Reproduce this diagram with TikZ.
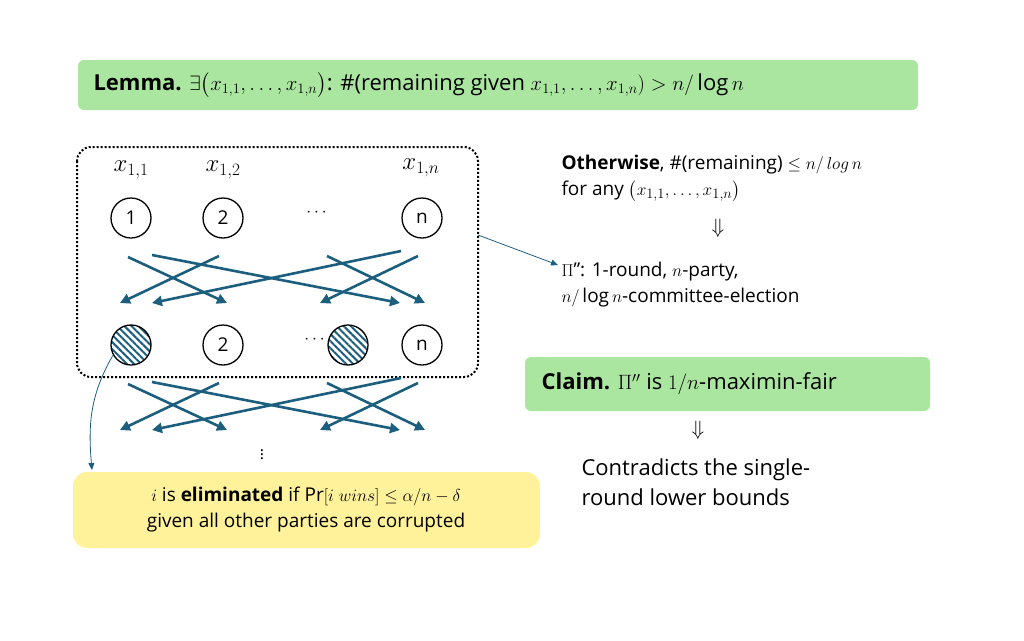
\documentclass[tikz,border=0pt]{standalone}
\usepackage{amsmath}
\usepackage{fontspec}
\setmainfont{Open Sans}
\usetikzlibrary{arrows.meta,positioning,patterns.meta}
\definecolor{arrowblue}{RGB}{28,94,125}
\definecolor{boxgreen}{RGB}{170,230,160}
\definecolor{boxyellow}{RGB}{255,242,155}

\begin{document}
\begin{tikzpicture}
[
	              x = 1pt, y = -1pt,
	     arr/.style = { draw=arrowblue, line width=2.6pt, -{Triangle[width=10pt,length=10pt]} },
	   party/.style = { draw=black, circle, line width=1.3pt, minimum size=40pt, inner sep=0pt, font=\fontsize{19}{20}\selectfont },
	 corrupt/.style = { party, pattern={Lines[angle=-45,distance=5pt,line width=2pt]}, pattern color=arrowblue },
	  banner/.style = { rounded corners=6pt, inner sep=0pt },
	    txt/.style = { anchor=west, align=left, font=\fontsize{19}{26}\selectfont },
	   dots/.style = { inner sep=0pt, font=\fontsize{16}{16}\selectfont }
]
    \useasboundingbox (0,0) rectangle (1024,640);

    % lemma banner
    \fill[banner, boxgreen] (78,60) rectangle (918,110);
    \node (LemmaText) at (90,85) [txt, font=\fontsize{22}{24}\selectfont]
        {\textbf{Lemma.} $\exists\big(x_{1,1},\dots,x_{1,n}\big)$: \#(remaining given $x_{1,1},\dots,x_{1,n})>n/\log n$};

    % first round
    \draw[dotted, line width=2pt, rounded corners=14pt] (77,147) rectangle (478,377);
    \coordinate (BoxRight) at (478,235);

    \node (XOne)   at (131,170) {\fontsize{23}{23}\selectfont $x_{1,1}$};
    \node (XTwo)   at (223,170) {\fontsize{23}{23}\selectfont $x_{1,2}$};
    \node (XN)     at (421,168) {\fontsize{23}{23}\selectfont $x_{1,n}$};

    \node (POne)   at (131,218) [party]   {1};
    \node (PTwo)   at (223,218) [party]   {2};
    \node (PDots)  at (318,213) [dots]    {$\cdots$};
    \node (PN)     at (422,218) [party]   {n};

    \node (QOne)   at (131,345) [corrupt] {};
    \node (QTwo)   at (223,345) [party]   {2};
    \node (QDots)  at (316,340) [dots]    {$\cdots$};
    \node (QThree) at (348,345) [corrupt] {};
    \node (QN)     at (422,345) [party]   {n};

    % message arrows, two rounds
    \foreach \dy/\r in {0/a, 127/b} {
        \coordinate (S1\r) at (128,257+\dy); \coordinate (E1\r) at (227,303+\dy);
        \coordinate (S2\r) at (152,255+\dy); \coordinate (E2\r) at (400,303+\dy);
        \coordinate (S3\r) at (219,256+\dy); \coordinate (E3\r) at (120,303+\dy);
        \coordinate (S4\r) at (401,251+\dy); \coordinate (E4\r) at (152,303+\dy);
        \coordinate (S5\r) at (327,256+\dy); \coordinate (E5\r) at (425,303+\dy);
        \coordinate (S6\r) at (418,256+\dy); \coordinate (E6\r) at (320,303+\dy);
        \foreach \i in {1,...,6}
            \draw[arr] (S\i\r) -- (E\i\r);
    }
    \node (VDots) at (262,452) [dots] {$\vdots$};

    % elimination note
    \fill[banner, boxyellow, rounded corners=14pt] (73,472) rectangle (540,548);
    \node (ElimText) at (306,510) [align=center, font=\fontsize{19}{26}\selectfont]
        {$i$ is \textbf{eliminated} if $\Pr[i\ wins]\le\alpha/n-\delta$\\ given all other parties are corrupted};
    \coordinate (ElimIn) at (92,470);
    \draw[arrowblue, thick, -{Triangle[width=6pt,length=7pt]}] (QOne.210) to[out=240,in=95] (ElimIn);

    % right side
    \node (Other) at (558,178) [txt]
        {\textbf{Otherwise}, \#(remaining) $\le n/\,log\,n$\\ for any $\big(x_{1,1},\dots,x_{1,n}\big)$};
    \node (ImplOne) at (718,228) {\fontsize{22}{22}\selectfont $\Downarrow$};
    \node (PiPP) at (558,285) [txt]
        {$\Pi$'': 1-round, $n$-party,\\ $n/\log n$-committee-election};
    \draw[arrowblue, thick, -{Triangle[width=6pt,length=7pt]}] (BoxRight) -- (PiPP.west |- 0,265);

    \fill[banner, boxgreen] (525,357) rectangle (930,411);
    \node (ClaimText) at (538,384) [txt, font=\fontsize{22}{24}\selectfont]
        {\textbf{Claim.} $\Pi''$ is $1/n$-maximin-fair};
    \node (ImplTwo) at (698,430) {\fontsize{22}{22}\selectfont $\Downarrow$};
    \node (Contra) at (578,482) [txt, font=\fontsize{22}{30}\selectfont]
        {Contradicts the single-\\ round lower bounds};
\end{tikzpicture}
\end{document}
